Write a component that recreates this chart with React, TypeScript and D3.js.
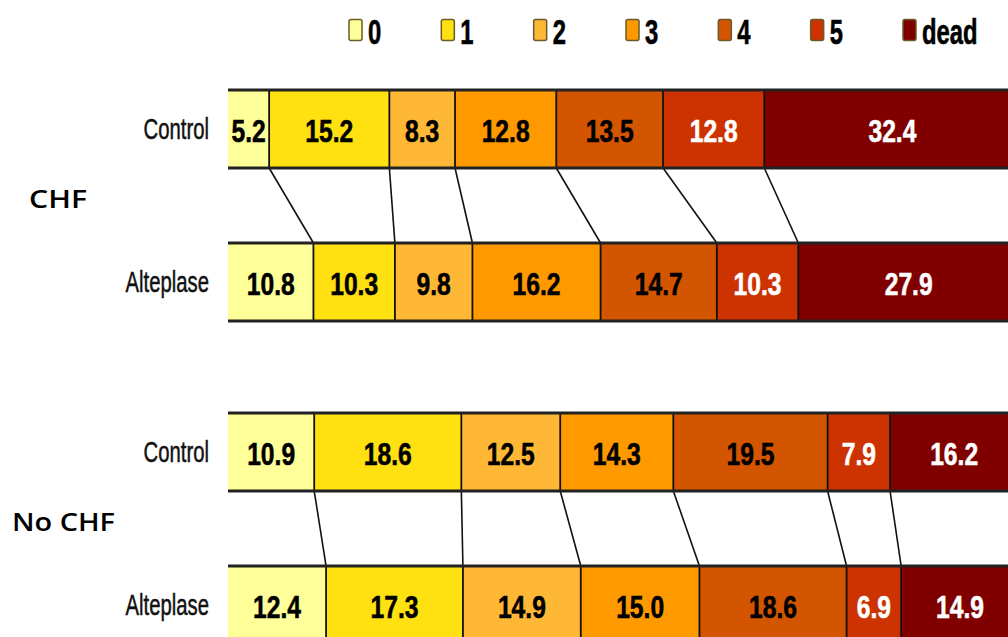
import React from "react";
import * as d3 from "d3";

// mRS outcome categories and their fill colours
const categories = ["0", "1", "2", "3", "4", "5", "dead"];
const categoryColors = ["#FFFF99", "#FFE010", "#FFB835", "#FF9900", "#D45500", "#CC3300", "#800000"];
const lightText = ["5", "dead"];

const groups = ["CHF", "No CHF"];
const arms = ["Control", "Alteplase"];

// Percentages per category, in the order of `categories`
const chfControl = [5.2, 15.2, 8.3, 12.8, 13.5, 12.8, 32.4];
const chfAlteplase = [10.8, 10.3, 9.8, 16.2, 14.7, 10.3, 27.9];
const noChfControl = [10.9, 18.6, 12.5, 14.3, 19.5, 7.9, 16.2];
const noChfAlteplase = [12.4, 17.3, 14.9, 15.0, 18.6, 6.9, 14.9];

const series = [
  [chfControl, chfAlteplase],
  [noChfControl, noChfAlteplase],
];

const W = 1008;
const H = 637;
const barH = 78;
const sans = "'Liberation Sans', Arial, sans-serif";

const x = d3.scaleLinear().domain([0, 100]).range([228, 1019]);
const groupY = d3.scaleBand<string>().domain(groups).range([90, 736]).paddingInner(0);
const armY = d3.scalePoint<string>().domain(arms).range([0, 153]);

const color = d3.scaleOrdinal<string, string>().domain(categories).range(categoryColors);

function stackRow(values: number[]) {
  let acc = 0;
  return values.map((v, i) => {
    const x0 = acc;
    acc += v;
    return { key: categories[i], value: v, x0, x1: acc };
  });
}

// Condensed text: a regular face squeezed horizontally
function Narrow(props: {
  x: number;
  y: number;
  sx: number;
  size: number;
  bold?: boolean;
  anchor?: "start" | "middle" | "end";
  fill?: string;
  stroke?: number;
  clip?: string;
  children: React.ReactNode;
}) {
  const { x: tx, y: ty, sx, size, bold, anchor = "start", fill = "#000", stroke = 0, clip, children } = props;
  const t = (
    <g transform={`translate(${tx},${ty}) scale(${sx},1)`}>
      <text
        x={0}
        y={0}
        textAnchor={anchor}
        fontFamily={sans}
        fontWeight={bold ? "bold" : "normal"}
        fontSize={size}
        fill={fill}
        stroke={stroke ? fill : "none"}
        strokeWidth={stroke}
      >
        {children}
      </text>
    </g>
  );
  return clip ? <g clipPath={clip}>{t}</g> : t;
}

export default function App() {
  const legendX = d3.scalePoint<string>().domain(categories).range([349, 903]);

  return (
    <svg width={W} height={H} style={{ display: "block", position: "absolute", left: 0, top: 0, background: "#fff" }}>
      <defs>
        {series.map((pair, gi) =>
          pair.map((vals, ai) =>
            stackRow(vals).map((s, si) => {
              const top = (groupY(groups[gi]) ?? 0) + (armY(arms[ai]) ?? 0);
              return (
                <clipPath id={`seg-${gi}-${ai}-${si}`} key={`c${gi}${ai}${si}`}>
                  <rect x={x(s.x0)} y={top} width={x(s.x1) - x(s.x0)} height={barH} />
                </clipPath>
              );
            })
          )
        )}
      </defs>

      {/* Legend */}
      {categories.map((c) => {
        const lx = legendX(c) ?? 0;
        return (
          <g key={`lg-${c}`}>
            <rect x={lx} y={19.5} width={13} height={21} rx={2} fill={color(c)} stroke="#6b5a2a" strokeWidth={1.5} />
            <Narrow x={lx + 19} y={43.5} sx={0.68} size={35} bold stroke={0.6}>
              {c}
            </Narrow>
          </g>
        );
      })}

      {series.map((pair, gi) => {
        const gTop = groupY(groups[gi]) ?? 0;
        const rows = pair.map(stackRow);
        const ctrlBottom = gTop + (armY("Control") ?? 0) + barH;
        const altTop = gTop + (armY("Alteplase") ?? 0);
        const label = groups[gi];
        return (
          <g key={`g-${gi}`}>
            <text
              x={gi === 0 ? 29 : 12}
              y={(ctrlBottom + altTop) / 2 + 2.5}
              fontFamily="'Open Sans', 'DejaVu Sans', sans-serif"
              fontWeight={600}
              fontSize={25}
              textLength={gi === 0 ? 58 : 103}
              lengthAdjust="spacingAndGlyphs"
              fill="#000"
            >
              {label}
            </text>

            {/* connectors between matching category boundaries */}
            {rows[0].slice(0, -1).map((s, si) => (
              <line
                key={`ln-${si}`}
                x1={x(s.x1)}
                y1={ctrlBottom}
                x2={x(rows[1][si].x1)}
                y2={altTop}
                stroke="#111"
                strokeWidth={1.6}
              />
            ))}

            {rows.map((row, ai) => {
              const top = gTop + (armY(arms[ai]) ?? 0);
              const mid = top + barH / 2;
              return (
                <g key={`r-${ai}`}>
                  <Narrow x={209} y={mid + 10} sx={0.7} size={29} anchor="end" fill="#111" stroke={0.5}>
                    {arms[ai]}
                  </Narrow>
                  {row.map((s) => (
                    <rect
                      key={`b-${s.key}`}
                      x={x(s.x0)}
                      y={top}
                      width={x(s.x1) - x(s.x0)}
                      height={barH}
                      fill={color(s.key)}
                    />
                  ))}
                  {row.slice(0, -1).map((s) => (
                    <line
                      key={`d-${s.key}`}
                      x1={x(s.x1)}
                      x2={x(s.x1)}
                      y1={top}
                      y2={top + barH}
                      stroke="#111"
                      strokeWidth={1.8}
                    />
                  ))}
                  <line x1={x(0)} x2={x(100)} y1={top} y2={top} stroke="#222" strokeWidth={3} />
                  <line x1={x(0)} x2={x(100)} y1={top + barH} y2={top + barH} stroke="#222" strokeWidth={3} />
                  {row.map((s, si) => (
                    <Narrow
                      key={`t-${s.key}`}
                      clip={`url(#seg-${gi}-${ai}-${si})`}
                      x={(x(s.x0) + x(s.x1)) / 2}
                      y={mid + 13}
                      sx={0.77}
                      size={32}
                      bold
                      anchor="middle"
                      stroke={0.6}
                      fill={lightText.includes(s.key) ? "#fff" : "#000"}
                    >
                      {s.value.toFixed(1)}
                    </Narrow>
                  ))}
                </g>
              );
            })}
          </g>
        );
      })}
    </svg>
  );
}
